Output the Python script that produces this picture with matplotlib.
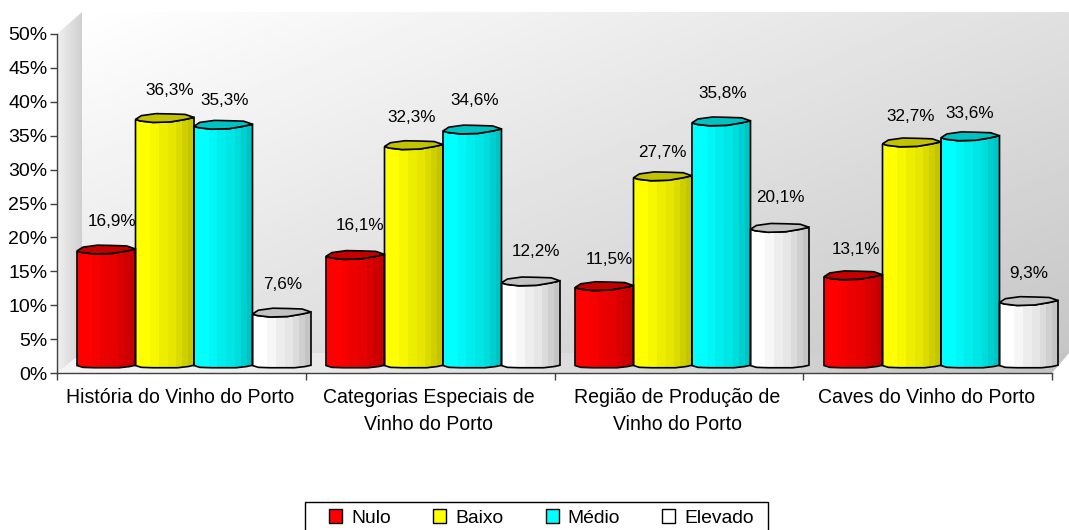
import numpy as np
from matplotlib import pyplot as plt
from matplotlib.patches import Patch, Polygon, Rectangle

plt.rcParams['font.family'] = ['Liberation Sans', 'DejaVu Sans']

categories = ["História do Vinho do Porto",
              "Categorias Especiais de\nVinho do Porto",
              "Região de Produção de\nVinho do Porto",
              "Caves do Vinho do Porto"]
series_names = ["Nulo", "Baixo", "Médio", "Elevado"]
nulo = [16.9, 16.1, 11.5, 13.1]
baixo = [36.3, 32.3, 27.7, 32.7]
medio = [35.3, 34.6, 35.8, 33.6]
elevado = [7.6, 12.2, 20.1, 9.3]
y_ticks = [0, 5, 10, 15, 20, 25, 30, 35, 40, 45, 50]

colors = [(1, 0, 0), (1, 1, 0), (0, 1, 1), (1, 1, 1)]
# vertical shading bands of a cylinder: right edge (fraction of width), brightness
bands = [(0.25, 1.0), (0.4, 0.97), (0.55, 0.93), (0.7, 0.9), (0.8, 0.86), (0.9, 0.81), (1.0, 0.77)]

PX_X = 248.75  # pixels per group
PX_Y = 6.78    # pixels per percent
W, H = 1069, 530

fig = plt.figure(figsize=(W / 100, H / 100), dpi=100)
ax = fig.add_axes([57 / W, 1 - 373 / H, (W - 57) / W, 361 / H])
ax.set_xlim(0, (W - 57) / PX_X)
ax.set_ylim(0, 361 / PX_Y)

depth_x = 25 / PX_X
depth_y = 20 / PX_Y
x_end = ax.get_xlim()[1]
y_end = ax.get_ylim()[1]


def gradient(poly_pts, img, extent, vmin=0, vmax=255):
    im = ax.imshow(img, extent=extent, cmap='gray', vmin=vmin, vmax=vmax,
                   aspect='auto', origin='upper', interpolation='bilinear', zorder=1)
    poly = Polygon(poly_pts, closed=True, transform=ax.transData, fc='none', ec='none')
    ax.add_patch(poly)
    im.set_clip_path(poly)


# back wall, white at top left and grey at bottom right
u, v = np.meshgrid(np.linspace(0, 1, 200), np.linspace(0, 1, 200))
wall = 255 - 31 * u - 26 * v
gradient([(depth_x, depth_y), (x_end, depth_y), (x_end, y_end), (depth_x, y_end)],
         wall, (depth_x, x_end, depth_y, y_end))
# left wall
side = np.tile(np.linspace(240, 208, 60), (2, 1))
gradient([(0, 0), (depth_x, depth_y), (depth_x, y_end), (0, 50)],
         side, (0, depth_x, 0, y_end))
# floor
floor = np.tile(np.linspace(245, 195, 200), (2, 1))
gradient([(0, 0), (4, 0), (x_end, depth_y), (depth_x, depth_y)],
         floor, (0, x_end, 0, depth_y))


def cylinder(left, width, value, color):
    base = 1.1
    top = base + value
    # front outline, x as fraction of width and y in pixels from the corner
    bottom_pts = [(0, 0), (0.1, -1.8), (0.3, -2.2), (0.72, -2.2), (0.9, -1), (1, 0.3)]
    front_pts = [(1, 2), (0.85, 0), (0.6, -2.5), (0.3, -3), (0.08, -1.5), (0, 0)]
    back_pts = [(0.1, 3.8), (0.35, 5.8), (0.6, 5.5), (0.85, 5), (1, 2)]
    outline = [(left + f * width, base + p / PX_Y) for f, p in bottom_pts]
    outline += [(left + f * width, top + p / PX_Y) for f, p in front_pts]
    body = Polygon(outline, closed=True, fc='none', ec='black', lw=1.2, zorder=4)
    ax.add_patch(body)
    start = 0
    for end, shade in bands:
        c = tuple(k * shade for k in color)
        rect = ax.bar(left + start * width, top + 2, width * (end - start), bottom=0,
                      align='edge', color=c, lw=0, zorder=3)
        rect[0].set_clip_path(body)
        start = end
    cap = [(left + f * width, top + p / PX_Y) for f, p in front_pts + back_pts]
    ax.add_patch(Polygon(cap, closed=True, fc=tuple(k * 0.76 for k in color),
                         ec='black', lw=1.2, zorder=5))


bar_w = 58.5 / PX_X
first = 20 / PX_X
group_step = 249 / PX_X
series = [nulo, baixo, medio, elevado]
# small label shifts in pixels, per series then per group
label_dx = [[6, 5, 5, 3], [5, -2, 0, -1], [1, 2, 1, -1], [1, 5, 1, 0]]
label_dy = [[31, 32, 30, 29], [30, 31, 27, 29], [27, 32, 31, 26], [31, 33, 33, 30]]

for s, vals in enumerate(series):
    for g, val in enumerate(vals):
        left = g * group_step + first + s * bar_w
        cylinder(left, bar_w, val, colors[s])
        ax.annotate(str(val).replace('.', ',') + '%',
                    xy=(left + bar_w / 2, 0.885 + val), xycoords='data',
                    xytext=(label_dx[s][g] * 0.72, label_dy[s][g] * 0.72),
                    textcoords='offset points', ha='center', va='center',
                    fontsize=12.3, color='black', zorder=6)

for sp in ['top', 'right']:
    ax.spines[sp].set_visible(False)
for sp in ['left', 'bottom']:
    ax.spines[sp].set_color('#404040')
    ax.spines[sp].set_linewidth(1)
ax.spines['left'].set_bounds(0, 50)
ax.spines['bottom'].set_bounds(0, 4)

ax.set_yticks(y_ticks)
ax.set_yticklabels(['{}%'.format(t) for t in y_ticks], fontsize=14)
ax.set_xticks([0, 1, 2, 3, 4])
ax.set_xticklabels([])
ax.set_xticks([0.494, 1.494, 2.494, 3.494], labels=categories, minor=True, fontsize=14.05,
              linespacing=1.55)
ax.tick_params(axis='x', which='minor', length=0, pad=10.5)
ax.tick_params(axis='both', which='major', length=5, width=1, color='#404040', pad=2)

fig.add_artist(Rectangle((305 / W, 1 - 531 / H), 463 / W, 29 / H, transform=fig.transFigure,
                         fc='white', ec='black', lw=1))
handles = [Patch(fc=c, ec='black', lw=1) for c in colors]
fig.legend(handles, series_names, loc='center', bbox_to_anchor=(541.5 / W, 1 - 518 / H),
           ncol=4, fontsize=13.9, frameon=False,
           handlelength=0.68, handleheight=0.68, handletextpad=0.45, columnspacing=2.2,
           borderpad=0, borderaxespad=0)

fig.savefig('out.png', dpi=100)
